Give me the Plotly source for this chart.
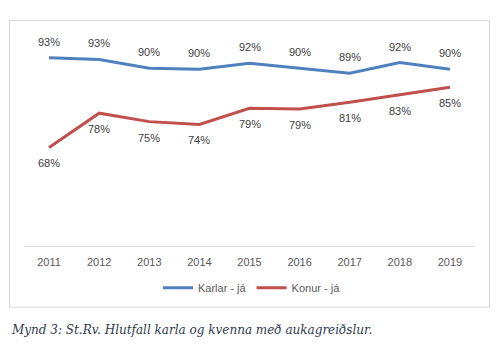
import plotly.graph_objects as go

years = ["2011", "2012", "2013", "2014", "2015", "2016", "2017", "2018", "2019"]
karlar = [0.933, 0.928, 0.903, 0.900, 0.917, 0.904, 0.889, 0.919, 0.900]
konur = [0.679, 0.776, 0.752, 0.744, 0.790, 0.788, 0.807, 0.828, 0.849]

BLUE = "#4f81bd"
RED = "#c0504d"
FONT = "Liberation Sans, Arial, sans-serif"

W, H = 502, 355
L, R, T, B = 24, 475, 33.5, 246.5
pw, ph = R - L, B - T


def px(xp):
    return (xp - L) / pw


def py(yp):
    return (B - yp) / ph


fig = go.Figure()
fig.add_trace(go.Scatter(x=years, y=karlar, mode="lines", name="Karlar - já",
                         line=dict(color=BLUE, width=3)))
fig.add_trace(go.Scatter(x=years, y=konur, mode="lines", name="Konur - já",
                         line=dict(color=RED, width=3)))

annotations = []
for i, yv in enumerate(karlar):
    annotations.append(dict(x=i, y=yv, xref="x", yref="y", text=f"{round(yv*100):d}%",
                            showarrow=False, yshift=16,
                            font=dict(family=FONT, size=11, color="#404040")))
for i, yv in enumerate(konur):
    annotations.append(dict(x=i, y=yv, xref="x", yref="y", text=f"{round(yv*100):d}%",
                            showarrow=False, yshift=-16,
                            font=dict(family=FONT, size=11, color="#404040")))
annotations.append(dict(x=px(9), y=py(331), xref="paper", yref="paper",
                        xanchor="left", yanchor="middle", showarrow=False,
                        text="<i>Mynd 3: St.Rv. Hlutfall karla og kvenna með aukagreiðslur.</i>",
                        font=dict(family="DejaVu Serif, serif", size=12, color="#2e3b4e")))

fig.update_layout(
    width=W, height=H,
    margin=dict(l=L, r=W - R, t=T, b=H - B, autoexpand=False),
    paper_bgcolor="white", plot_bgcolor="white",
    showlegend=True,
    legend=dict(orientation="h", x=px(252), y=py(288.5), xanchor="center", yanchor="middle",
                font=dict(family=FONT, size=11, color="#595959"),
                itemwidth=30, tracegroupgap=0, bgcolor="rgba(0,0,0,0)"),
    annotations=annotations,
    shapes=[dict(type="rect", xref="paper", yref="paper",
                 x0=px(9.5), x1=px(489.5), y0=py(308), y1=py(20),
                 line=dict(color="#d9d9d9", width=1), fillcolor="rgba(0,0,0,0)",
                 layer="below")],
    xaxis=dict(type="category", range=[-0.5, 8.5], showgrid=False, zeroline=False,
               showline=True, linecolor="#d9d9d9", linewidth=1, ticks="",
               ticklabelstandoff=6,
               tickfont=dict(family=FONT, size=11, color="#595959")),
    yaxis=dict(range=[0.4, 1.0], visible=False, showgrid=False, zeroline=False),
)

fig.write_html("out.html", config={"displayModeBar": False},
               post_script="document.body.style.margin='0';")
